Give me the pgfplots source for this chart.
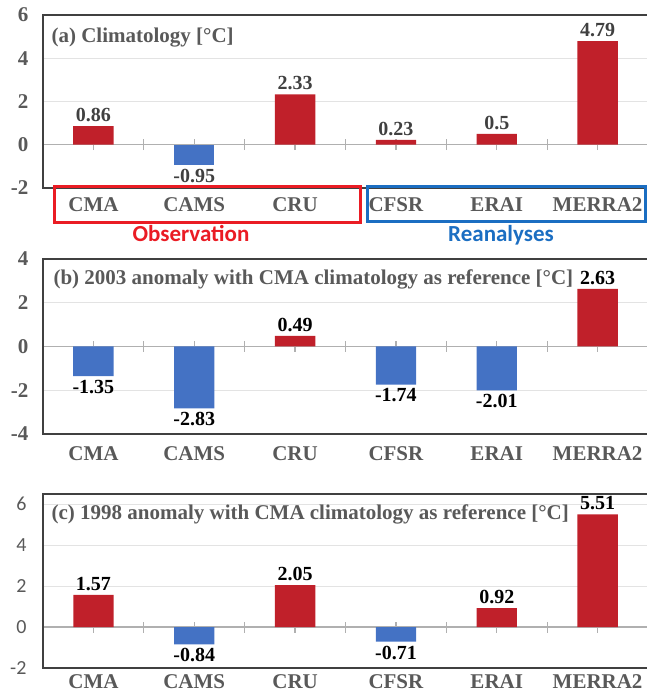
\documentclass[border=0pt]{standalone}
\usepackage{pgfplots}
\pgfplotsset{compat=1.18}
\usepackage{fontspec}
\setmainfont{Liberation Serif}
\newfontfamily\carl{Carlito}
\definecolor{barred}{HTML}{C0202A}
\definecolor{barblue}{HTML}{4472C4}
\definecolor{txtgray}{HTML}{595959}
\definecolor{valgray}{HTML}{404040}
\definecolor{framegray}{HTML}{404040}
\definecolor{gridgray}{HTML}{E3E3E3}
\definecolor{zerogray}{HTML}{B0B0B0}
\definecolor{boxred}{HTML}{EA1C24}
\definecolor{boxblue}{HTML}{1B6EC2}
\pgfplotsset{
  geom/.style={scale only axis, width=605pt, anchor=south west, xmin=-0.5, xmax=5.5, clip=false},
  zeroaxis/.style={geom,
    axis x line=middle, axis y line=none,
    xtick={0,...,5}, minor xtick={0.5,1.5,2.5,3.5,4.5},
    xticklabels={}, tick align=center,
    major tick length=11pt, minor tick length=11pt,
    x axis line style={zerogray, line width=1.5pt, -},
    every tick/.style={zerogray, line width=1.3pt},
    every minor tick/.style={zerogray, line width=1.3pt},
  },
  panel/.style={geom,
    xtick={0,...,5}, xticklabels={CMA,CAMS,CRU,CFSR,ERAI,MERRA2},
    major tick length=0pt,
    ymajorgrids, grid style={gridgray, line width=0.8pt},
    extra y tick style={ymajorgrids=false},
    axis line style={framegray, line width=1.2pt},
    tick label style={text=txtgray, font=\bfseries\fontsize{21}{21}\selectfont},
    yticklabel style={xshift=-11pt},
  },
  bars/.style={ybar, bar width=0.4, bar shift=0pt, draw=none,
    nodes near coords={\pgfmathprintnumber[assume math mode=true]{\pgfplotspointmeta}},
    nodes near coords align=vertical,
    every node near coord/.append style={font=\bfseries\fontsize{20}{20}\selectfont, inner sep=4pt, text=#1}},
  bars/.default=black,
}
\begin{document}
\begin{tikzpicture}
\useasboundingbox (0,0) rectangle (646pt,696pt);
% ---------------- (a)
\begin{axis}[zeroaxis, at={(43pt,508pt)}, height=173pt, ymin=-2, ymax=6]
\end{axis}
\begin{axis}[panel, at={(43pt,508pt)}, height=173pt,
  ymin=-2, ymax=6, ytick={-2,2,4,6}, yticklabels={-2,2,4,6},
  extra y ticks={0}, extra y tick labels={0},
  xticklabel style={yshift=-6pt}]
\addplot[bars=valgray, fill=barred] coordinates {(0,0.86) (2,2.33) (3,0.23) (4,0.5) (5,4.79)};
\addplot[bars=valgray, fill=barblue] coordinates {(1,-0.95)};
\end{axis}
\node[anchor=base west, text=txtgray, font=\bfseries\fontsize{21}{21}\selectfont] at (48pt,653pt) {(a) Climatology [°C]};
\draw[boxred, line width=3pt] (54pt,509pt) rectangle (360pt,473pt);
\draw[boxblue, line width=3pt] (367pt,509pt) rectangle (645pt,474pt);
\node[anchor=base, text=boxred, font=\carl\bfseries\fontsize{23}{23}\selectfont] at (191pt,454pt) {Observation};
\node[anchor=base, text=boxblue, font=\carl\bfseries\fontsize{23}{23}\selectfont] at (501pt,454pt) {Reanalyses};
% ---------------- (b)
\begin{axis}[zeroaxis, at={(43pt,262pt)}, height=175pt, ymin=-4, ymax=4]
\end{axis}
\begin{axis}[panel, at={(43pt,262pt)}, height=175pt,
  ymin=-4, ymax=4, ytick={-4,-2,2,4}, yticklabels={-4,-2,2,4},
  extra y ticks={0}, extra y tick labels={0},
  xticklabel style={yshift=-9pt}]
\addplot[bars, fill=barred] coordinates {(2,0.49) (5,2.63)};
\addplot[bars, fill=barblue] coordinates {(0,-1.35) (1,-2.83) (3,-1.74) (4,-2.01)};
\end{axis}
\node[anchor=base west, text=txtgray, font=\bfseries\fontsize{21}{21}\selectfont] at (50pt,411pt) {(b) 2003 anomaly with CMA climatology as reference [°C]};
% ---------------- (c)
\begin{axis}[zeroaxis, at={(43pt,28pt)}, height=174pt, ymin=-2, ymax=6.5]
\end{axis}
\begin{axis}[panel, at={(43pt,28pt)}, height=174pt,
  ymin=-2, ymax=6.5, ytick={-2,2,4,6}, yticklabels={-2,2,4,6},
  extra y ticks={0}, extra y tick labels={0},
  yticklabel style={font=\carl\fontsize{20}{20}\selectfont, xshift=-2pt},
  xticklabel style={yshift=-3pt}]
\addplot[bars, fill=barred] coordinates {(0,1.57) (2,2.05) (4,0.92) (5,5.51)};
\addplot[bars, fill=barblue] coordinates {(1,-0.84) (3,-0.71)};
\end{axis}
\node[anchor=base west, text=txtgray, font=\bfseries\fontsize{21}{21}\selectfont] at (48pt,176pt) {(c) 1998 anomaly with CMA climatology as reference [°C]};
\end{tikzpicture}
\end{document}
